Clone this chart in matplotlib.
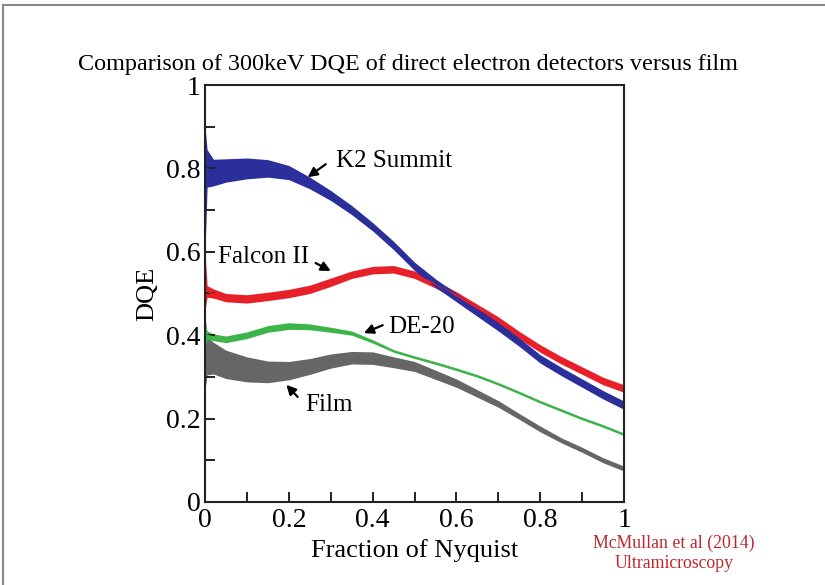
import numpy as np
import matplotlib
matplotlib.use("Agg")
import matplotlib.pyplot as plt
from matplotlib.lines import Line2D

plt.rcParams['font.family'] = ['Liberation Serif', 'DejaVu Serif']

# Fraction of Nyquist sample points
freq = [0, 0.005, 0.02, 0.05, 0.1, 0.15, 0.2, 0.25, 0.3, 0.35, 0.4, 0.45,
        0.5, 0.55, 0.6, 0.65, 0.7, 0.75, 0.8, 0.85, 0.9, 0.95, 1.0]

# DQE centre values
k2_dqe = [0.75, 0.80, 0.79, 0.795, 0.80, 0.80, 0.79, 0.765, 0.735, 0.70, 0.66, 0.615,
          0.565, 0.525, 0.49, 0.455, 0.42, 0.383, 0.343, 0.313, 0.285, 0.257, 0.232]
falcon_dqe = [0.53, 0.505, 0.50, 0.49, 0.487, 0.493, 0.50, 0.51, 0.527, 0.545, 0.556, 0.558,
              0.545, 0.522, 0.495, 0.465, 0.435, 0.40, 0.368, 0.34, 0.315, 0.29, 0.272]
de20_dqe = [0.40, 0.40, 0.395, 0.39, 0.40, 0.415, 0.422, 0.42, 0.413, 0.405, 0.385, 0.362,
            0.347, 0.333, 0.318, 0.302, 0.283, 0.262, 0.24, 0.22, 0.20, 0.182, 0.162]
film_dqe = [0.36, 0.35, 0.345, 0.33, 0.318, 0.312, 0.315, 0.325, 0.338, 0.346, 0.345, 0.335,
            0.325, 0.305, 0.285, 0.26, 0.235, 0.205, 0.175, 0.148, 0.125, 0.10, 0.08]

# half-width of the noise band around each curve
k2_spread = [0.15, 0.045, 0.032, 0.028, 0.025, 0.021, 0.017, 0.014, 0.012, 0.011, 0.010, 0.010,
             0.010, 0.010, 0.010, 0.010, 0.010, 0.010, 0.010, 0.010, 0.010, 0.010, 0.010]
falcon_spread = [0.07, 0.014, 0.011, 0.010, 0.010, 0.010, 0.010, 0.010, 0.010, 0.009, 0.009, 0.009,
                 0.009, 0.009, 0.009, 0.009, 0.009, 0.009, 0.009, 0.009, 0.009, 0.009, 0.009]
de20_spread = [0.03, 0.010, 0.008, 0.008, 0.008, 0.008, 0.008, 0.007, 0.006, 0.005, 0.004, 0.003,
               0.003, 0.003, 0.003, 0.003, 0.003, 0.003, 0.003, 0.003, 0.003, 0.003, 0.003]
film_spread = [0.09, 0.045, 0.038, 0.034, 0.030, 0.026, 0.022, 0.019, 0.017, 0.015, 0.015, 0.013,
               0.012, 0.011, 0.010, 0.009, 0.008, 0.007, 0.007, 0.006, 0.006, 0.006, 0.006]

x = np.array(freq)

fig = plt.figure(figsize=(8.25, 5.85), dpi=100)
ax = fig.add_axes([0.2485, 0.1419, 0.508, 0.7128])

series = [
    (film_dqe, film_spread, '#666666'),
    (de20_dqe, de20_spread, '#3cb44a'),
    (falcon_dqe, falcon_spread, '#e8202a'),
    (k2_dqe, k2_spread, '#2b2f9c'),
]
for vals, spread, col in series:
    v = np.array(vals)
    s = np.array(spread)
    ax.fill_between(x, v - s, v + s, color=col, lw=0)
    ax.plot(x, v, color=col, lw=1.2)

ax.set_xlim(0, 1)
ax.set_ylim(0, 1)
ticks = [0, 0.2, 0.4, 0.6, 0.8, 1]
tick_labels = ['0', '0.2', '0.4', '0.6', '0.8', '1']
ax.set_xticks(ticks)
ax.set_xticklabels(tick_labels)
ax.set_yticks(ticks)
ax.set_yticklabels(tick_labels)
ax.set_xticks(np.arange(0.1, 1.0, 0.2), minor=True)
ax.set_yticks(np.arange(0.1, 1.0, 0.2), minor=True)
ax.tick_params(which='both', direction='in', length=7, width=1.4, labelsize=20,
               color='#222222', pad=3)
ax.tick_params(axis='x', which='major', pad=4)
for sp in ax.spines.values():
    sp.set_linewidth(1.5)
    sp.set_color('#222222')

ax.set_xlabel('Fraction of Nyquist', fontsize=19, labelpad=5)
ax.set_ylabel('DQE', fontsize=19, labelpad=6)

arrow = dict(arrowstyle='-|>', color='black', lw=1.6, mutation_scale=14,
             shrinkA=0, shrinkB=0)
ax.text(0.312, 0.818, 'K2 Summit', fontsize=18, va='center')
ax.annotate('', xy=(0.245, 0.779), xytext=(0.288, 0.810), arrowprops=arrow)
ax.text(0.031, 0.588, 'Falcon II', fontsize=18, va='center')
ax.annotate('', xy=(0.300, 0.554), xytext=(0.264, 0.573), arrowprops=arrow)
ax.text(0.436, 0.420, 'DE-20', fontsize=18, va='center')
ax.annotate('', xy=(0.379, 0.405), xytext=(0.424, 0.424), arrowprops=arrow)
ax.text(0.240, 0.233, 'Film', fontsize=18, va='center')
ax.annotate('', xy=(0.194, 0.281), xytext=(0.221, 0.252), arrowprops=arrow)

fig.text(0.494, 0.890, 'Comparison of 300keV DQE of direct electron detectors versus film',
         ha='center', va='center', fontsize=17.4)
fig.text(0.817, 0.071, 'McMullan et al (2014)', ha='center', va='center',
         fontsize=12.8, color='#c0272d')
fig.text(0.817, 0.037, 'Ultramicroscopy', ha='center', va='center',
         fontsize=12.8, color='#c0272d')

# page frame visible at top and left
fig.add_artist(Line2D([3 / 825, 3 / 825], [0, 1 - 5 / 585], transform=fig.transFigure,
                      color='#888888', lw=1.5))
fig.add_artist(Line2D([3 / 825, 1], [1 - 5 / 585, 1 - 5 / 585], transform=fig.transFigure,
                      color='#888888', lw=1.5))

fig.savefig('out.png', dpi=100)
